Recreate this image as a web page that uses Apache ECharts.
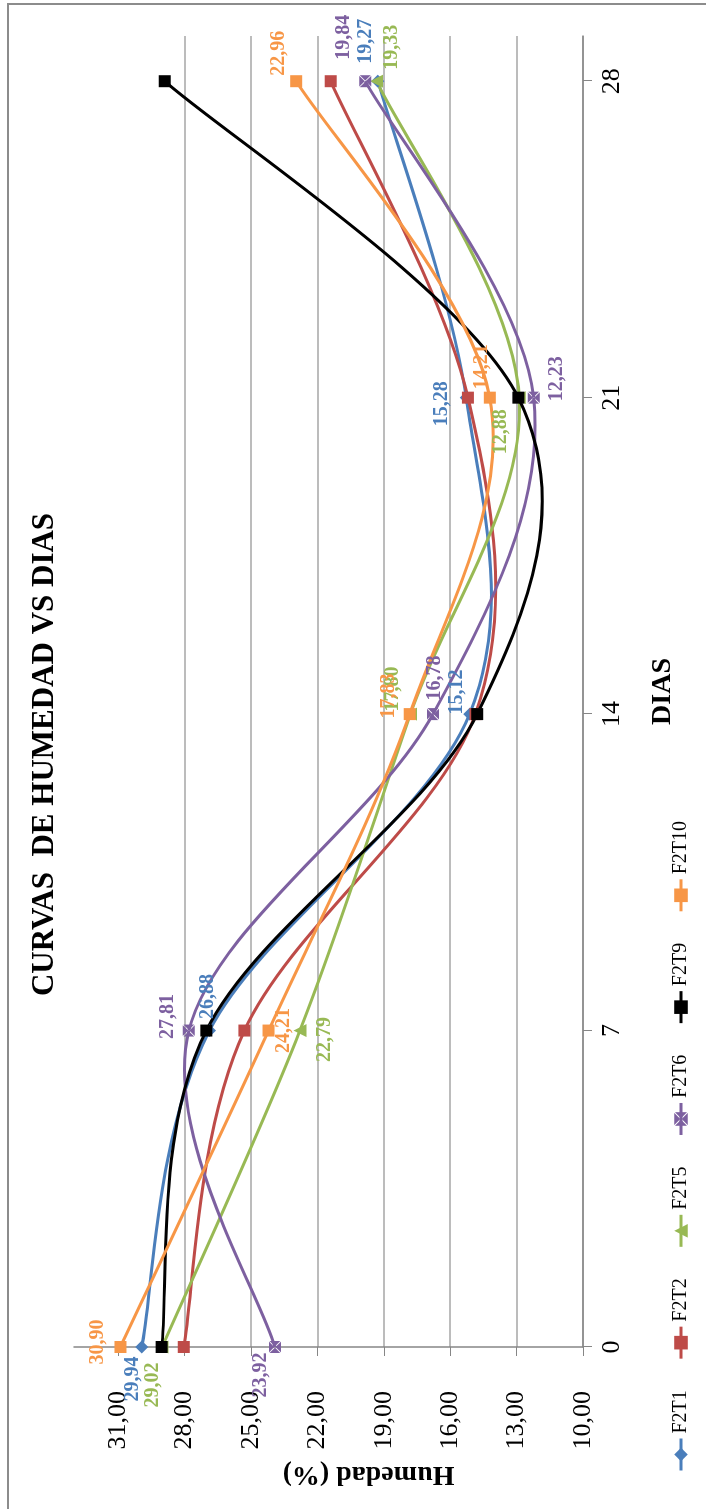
<!DOCTYPE html>
<html>
<head>
<meta charset="utf-8">
<title>Curvas de humedad vs dias</title>
<script src="https://cdn.jsdelivr.net/npm/echarts@6/dist/echarts.min.js"></script>
<style>
html, body { margin: 0; padding: 0; width: 706px; height: 1509px; overflow: hidden; background: #fff; }
/* chart drawn landscape, then turned a quarter left like the original sheet */
#chart { position: absolute; left: 0; top: 0; width: 1509px; height: 706px;
  transform-origin: 0 0; transform: translate(0px, 1509px) rotate(-90deg); }
</style>
</head>
<body>
<div id="chart"></div>
<script>
// days on the horizontal axis
const dias = [0, 7, 14, 21, 28];
const humTicks = [10, 13, 16, 19, 22, 25, 28, 31];

// humidity (%) per treatment
const f2t1 = [29.94, 26.88, 15.12, 15.28, 19.27];
const f2t2 = [28.04, 25.30, 14.86, 15.20, 21.40];
const f2t5 = [29.02, 22.79, 17.80, 12.88, 19.33];
const f2t6 = [23.92, 27.81, 16.78, 12.23, 19.84];
const f2t9 = [29.04, 27.02, 14.78, 12.92, 28.90];
const f2t10 = [30.90, 24.21, 17.83, 14.21, 22.96];

const serif = 'Liberation Serif, Times New Roman, serif';

// label nudges (px) for the series that carry data labels
const labelShift = {
  F2T1: [[-32, -9], [34, -2], [22, -13], [-6, -24], [40, -12]],
  F2T5: [[-38, -9], [-9, 25], [25, -18], [-34, -18], [34, 15]],
  F2T6: [[-28, -14], [14, -21], [36, 2], [19, 23], [44, -21]],
  F2T10: [[5, -23], [0, 15], [18, -21], [31, -8], [28, -17]]
};

const boxX = 'path://M1,0L19,0L10,9Z M20,1L20,19L11,10Z M1,20L19,20L10,11Z M0,1L0,19L9,10Z';

const defs = [
  { name: 'F2T1', vals: f2t1, color: '#4A7EBB', symbol: 'diamond', size: 13 },
  { name: 'F2T2', vals: f2t2, color: '#BE4B48', symbol: 'rect', size: 12 },
  { name: 'F2T5', vals: f2t5, color: '#98B954', symbol: 'triangle', size: 13 },
  { name: 'F2T6', vals: f2t6, color: '#7D60A0', symbol: boxX, size: 12 },
  { name: 'F2T9', vals: f2t9, color: '#000000', symbol: 'rect', size: 12 },
  { name: 'F2T10', vals: f2t10, color: '#F79646', symbol: 'rect', size: 12 }
];

function fmt(v) { return v.toFixed(2).replace('.', ','); }

// Excel-style smoothed line: cubic pieces through the points (tangent = (next - prev) / 6)
function curveSeries(d) {
  const n = d.vals.length;
  return {
    name: d.name + ' curva',
    type: 'custom',
    silent: true,
    data: d.vals.map(function (v, i) { return [dias[i], v]; }),
    encode: { x: 0, y: 1 },
    renderItem: function (params, api) {
      const i = params.dataIndex;
      if (i >= n - 1) return null;
      const P = function (j) {
        j = Math.max(0, Math.min(n - 1, j));
        return api.coord([dias[j], d.vals[j]]);
      };
      const p0 = P(i - 1), p1 = P(i), p2 = P(i + 1), p3 = P(i + 2);
      return {
        type: 'bezierCurve',
        shape: {
          x1: p1[0], y1: p1[1], x2: p2[0], y2: p2[1],
          cpx1: p1[0] + (p2[0] - p0[0]) / 6, cpy1: p1[1] + (p2[1] - p0[1]) / 6,
          cpx2: p2[0] - (p3[0] - p1[0]) / 6, cpy2: p2[1] - (p3[1] - p1[1]) / 6
        },
        style: { fill: 'none', stroke: d.color, lineWidth: 3 }
      };
    }
  };
}

function markSeries(d) {
  const shifts = labelShift[d.name];
  return {
    name: d.name,
    type: 'line',
    symbol: d.symbol,
    symbolSize: d.size,
    color: d.color,
    lineStyle: { width: 3, color: d.color, opacity: 0 },
    itemStyle: { color: d.color },
    label: {
      show: !!shifts,
      position: 'inside',
      fontFamily: serif,
      fontWeight: 'bold',
      fontSize: 20,
      color: d.color,
      formatter: function (p) { return fmt(p.value[1]); }
    },
    data: d.vals.map(function (v, i) {
      const item = { value: [dias[i], v] };
      if (shifts) item.label = { offset: shifts[i] };
      return item;
    })
  };
}

const series = [];
defs.forEach(function (d) {
  series.push(curveSeries(d));
  series.push(markSeries(d));
});

const chart = echarts.init(document.getElementById('chart'));
chart.setOption({
  animation: false,
  backgroundColor: '#fff',
  textStyle: { fontFamily: serif },
  title: {
    text: 'CURVAS  DE HUMEDAD VS DIAS',
    left: 'center',
    top: 24,
    textStyle: { fontFamily: serif, fontSize: 31, fontWeight: 'bold', color: '#000' }
  },
  graphic: [{
    type: 'rect',
    shape: { x: -10, y: 8, width: 1515, height: 800 },
    style: { fill: 'none', stroke: '#8c8c8c', lineWidth: 2 },
    silent: true
  }],
  legend: {
    data: defs.map(function (d) { return d.name; }),
    left: 32,
    top: 666,
    itemWidth: 32,
    itemHeight: 17,
    itemGap: 30,
    lineStyle: { width: 3, opacity: 1 },
    textStyle: { fontFamily: serif, fontSize: 20, color: '#000' }
  },
  grid: { left: 162, right: 36, top: 74, bottom: 123 },
  xAxis: {
    type: 'value',
    min: 0,
    max: 29,
    interval: 7,
    name: 'DIAS',
    nameLocation: 'middle',
    nameGap: 66,
    nameTextStyle: { fontFamily: serif, fontSize: 28, fontWeight: 'bold', color: '#000' },
    axisLine: { show: true, lineStyle: { color: '#868686', width: 1.5 } },
    axisTick: { show: true, length: 9, customValues: dias, lineStyle: { color: '#868686' } },
    axisLabel: { customValues: dias, margin: 16, fontFamily: serif, fontSize: 26, color: '#000' },
    splitLine: { show: false }
  },
  yAxis: {
    type: 'value',
    min: 10,
    max: 33,
    interval: 3,
    name: 'Humedad (%)',
    nameLocation: 'middle',
    nameRotate: 90,
    nameGap: 98,
    nameTextStyle: { fontFamily: serif, fontSize: 28, fontWeight: 'bold', color: '#000', padding: [0, 80, 0, 0] },
    axisLine: { show: true, lineStyle: { color: '#868686', width: 1.5 } },
    axisTick: { show: true, length: 9, customValues: humTicks, lineStyle: { color: '#868686' } },
    axisLabel: { customValues: humTicks, margin: 44, fontFamily: serif, fontSize: 26, color: '#000',
      formatter: function (v) { return fmt(v); } },
    splitLine: { show: true, showMaxLine: false, lineStyle: { color: '#a6a6a6', width: 1.5 } }
  },
  series: series
});
</script>
</body>
</html>
